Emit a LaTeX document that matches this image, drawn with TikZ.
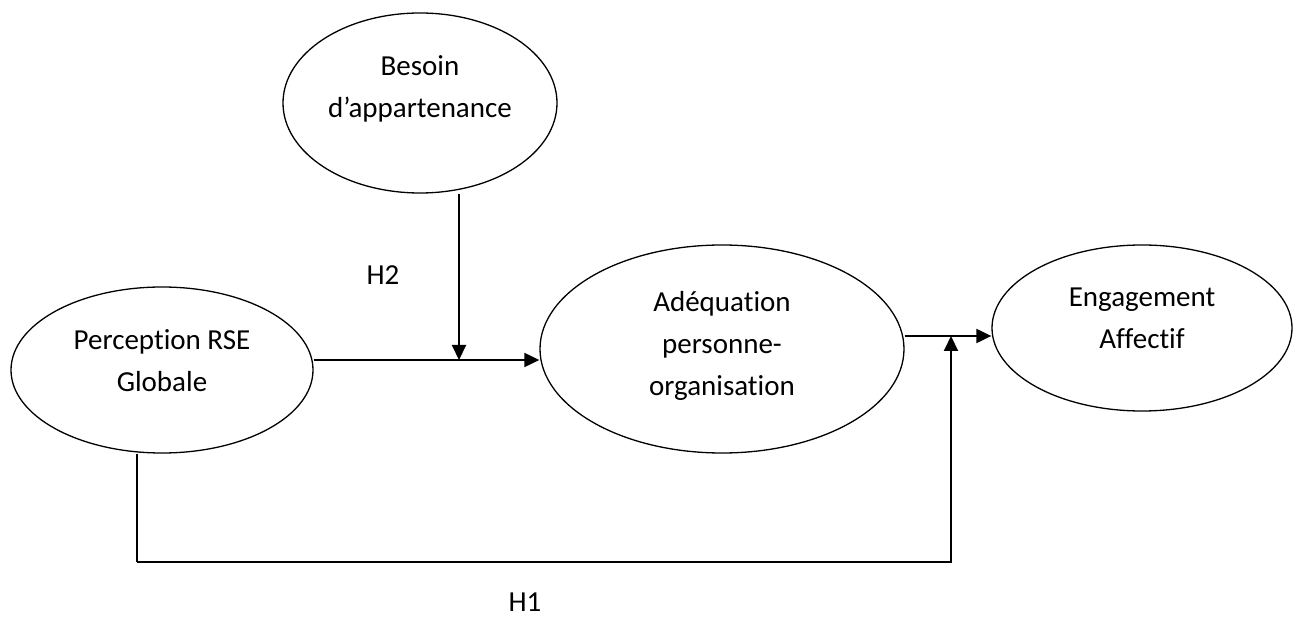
\documentclass[tikz,border=0pt]{standalone}
\usepackage{fontspec}
\setmainfont{Carlito}[Ligatures={NoCommon}]
\usetikzlibrary{shapes.geometric,arrows.meta}
\begin{document}
\begin{tikzpicture}[x=1pt,y=-1pt,
  oval/.style={draw,ellipse,line width=1.3pt,inner sep=0pt},
  lbl/.style={align=center,inner sep=0pt,font=\fontsize{29}{42}\selectfont},
  conn/.style={line width=2pt},
  arr/.style={conn,-{Triangle[length=15pt,width=14pt]}}]
\useasboundingbox (0,0) rectangle (1304,617);
% ellipses
\node[oval,minimum width=274pt,minimum height=180pt] (besoin) at (420,103) {};
\node[oval,minimum width=302pt,minimum height=166pt] (perception) at (162,370) {};
\node[oval,minimum width=364pt,minimum height=208pt] (adequation) at (722,349) {};
\node[oval,minimum width=300pt,minimum height=166pt] (engagement) at (1142,328) {};
% texts
\node[lbl] (tbesoin) at (420,89) {Besoin\\d’appartenance};
\node[lbl] (tperception) at (162,361) {Perception RSE\\Globale};
\node[lbl] (tadequation) at (722,346) {Adéquation\\personne-\\organisation};
\node[lbl] (tengagement) at (1142,318) {Engagement\\Affectif};
\node[lbl] (h2) at (383,275) {H2};
\node[lbl] (h1) at (525,602) {H1};
% junctions
\coordinate (j1) at (459,360);
\coordinate (j2) at (951,336);
\coordinate (c0) at (137,562);
\coordinate (c1) at (951,562);
% connectors
\draw[arr] (perception.east |- j1) -- (adequation.west |- j1);
\draw[arr] (besoin.south -| j1) -- (j1);
\draw[arr] (adequation.east |- j2) -- (engagement.west |- j2);
\draw[conn,line width=1.5pt] (perception.south -| c0) -- (c0);
\draw[arr] (c0) -- (c1) -- (j2);
\end{tikzpicture}
\end{document}
